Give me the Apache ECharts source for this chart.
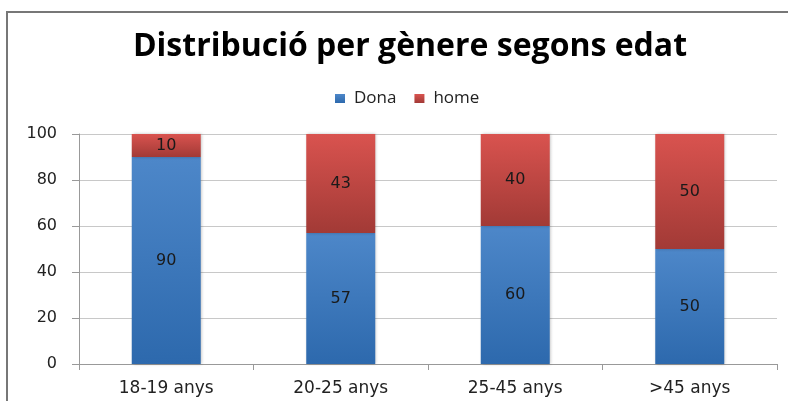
<!DOCTYPE html>
<html>
<head>
<meta charset="utf-8">
<script src="https://cdn.jsdelivr.net/npm/echarts@6/dist/echarts.min.js"></script>
<style>
html, body { margin: 0; padding: 0; background: #fff; }
#chart { width: 788px; height: 401px; }
</style>
</head>
<body>
<div id="chart"></div>
<script>
// dades del gràfic
var categories = ['18-19 anys', '20-25 anys', '25-45 anys', '>45 anys'];
var dona = [90, 57, 60, 50];
var home = [10, 43, 40, 50];

var myChart = echarts.init(document.getElementById('chart'));

function grad(top, bottom) {
    return new echarts.graphic.LinearGradient(0, 0, 0, 1, [
        { offset: 0, color: top },
        { offset: 1, color: bottom }
    ]);
}

var labelStyle = {
    show: true,
    position: 'inside',
    color: '#1a1a1a',
    fontFamily: 'DejaVu Sans',
    fontSize: 16
};

var option = {
    backgroundColor: '#fff',
    title: {
        text: 'Distribució per gènere segons edat',
        left: 405,
        textAlign: 'center',
        top: 26,
        textStyle: {
            fontFamily: 'Open Sans',
            fontWeight: 'bold',
            fontSize: 32,
            color: '#000'
        }
    },
    legend: {
        data: ['Dona', 'home'],
        top: 85,
        left: 330,
        itemWidth: 10,
        itemHeight: 9,
        itemGap: 18,
        icon: 'rect',
        textStyle: {
            fontFamily: 'Open Sans',
            fontSize: 17,
            color: '#222',
            padding: [0, 0, 0, 4]
        }
    },
    graphic: [{
        type: 'rect',
        shape: { x: 7, y: 12, width: 800, height: 420 },
        style: { fill: 'none', stroke: '#777', lineWidth: 2 },
        silent: true
    }],
    grid: {
        left: 79,
        right: 11,
        top: 134,
        bottom: 37
    },
    xAxis: {
        type: 'category',
        data: categories,
        axisLine: { lineStyle: { color: '#999' } },
        axisTick: { show: true, length: 6, lineStyle: { color: '#999' } },
        axisLabel: {
            fontFamily: 'DejaVu Sans',
            fontSize: 17,
            color: '#222',
            margin: 16
        }
    },
    yAxis: {
        type: 'value',
        min: 0,
        max: 100,
        interval: 20,
        axisLine: { show: true, lineStyle: { color: '#999' } },
        axisTick: { show: true, length: 7, lineStyle: { color: '#999' } },
        splitLine: { lineStyle: { color: '#c8c8c8' } },
        axisLabel: {
            fontFamily: 'DejaVu Sans',
            fontSize: 16,
            color: '#222',
            margin: 22
        }
    },
    series: [
        {
            name: 'Dona',
            type: 'bar',
            stack: 'total',
            barWidth: 69,
            data: dona,
            itemStyle: {
                color: grad('#4d87c9', '#2d69ad'),
                shadowColor: 'rgba(0,0,0,0.25)',
                shadowBlur: 3,
                shadowOffsetX: 1
            },
            label: labelStyle
        },
        {
            name: 'home',
            type: 'bar',
            stack: 'total',
            barWidth: 69,
            data: home,
            itemStyle: {
                color: grad('#d9534f', '#a23a36'),
                shadowColor: 'rgba(0,0,0,0.25)',
                shadowBlur: 3,
                shadowOffsetX: 1
            },
            label: labelStyle
        }
    ]
};

myChart.setOption(option);
</script>
</body>
</html>
